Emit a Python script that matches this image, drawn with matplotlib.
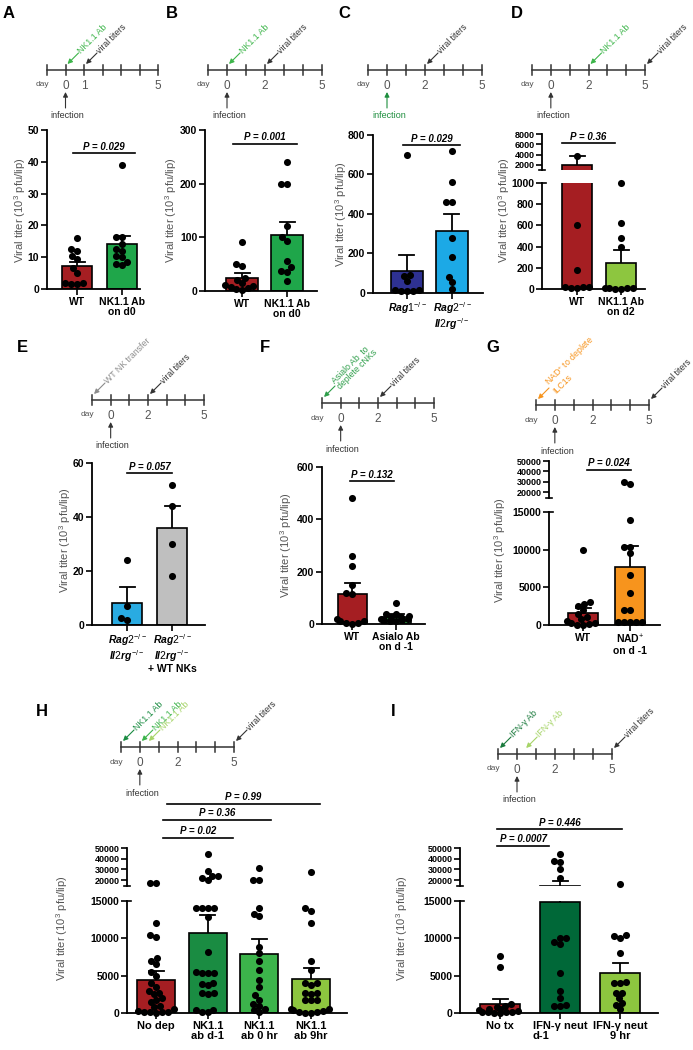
import numpy as np
import matplotlib
matplotlib.use("Agg")
import matplotlib.pyplot as plt

plt.rcParams['font.family'] = ['Liberation Sans', 'DejaVu Sans']
plt.rcParams['mathtext.fontset'] = 'custom'
plt.rcParams['mathtext.rm'] = 'Liberation Sans'
plt.rcParams['mathtext.it'] = 'Liberation Sans:italic:bold'
plt.rcParams['mathtext.bf'] = 'Liberation Sans:bold'

# ---------------- data ----------------
TIMELINE_DAYS = [-1, 0, 1, 2, 3, 4, 5]

A_labels = ["WT", "NK1.1 Ab\non d0"]
A_wt = [16, 12, 12.5, 9.5, 10.5, 6.5, 5, 2, 1.5, 1.5, 2]
A_nk = [39, 16.5, 16.5, 14, 12, 10.5, 10, 8, 8.5, 7.5, 12.5]
A_mean = [7.2, 14.1]
A_sem = [1.3, 2.6]
A_yticks = [0, 10, 20, 30, 40, 50]
A_p = "P = 0.029"
A_daylabels = [0, 1, 5]
A_events = [("NK1.1 Ab", 0, "#3db54a"), ("viral titers", 1, "#333333")]

B_labels = ["WT", "NK1.1 Ab\non d0"]
B_wt = [92, 47, 50, 12, 10, 8, 5, 3, 2, 25, 15, 20]
B_nk = [240, 200, 200, 122, 100, 93, 55, 45, 38, 36, 18]
B_mean = [24, 104]
B_sem = [9, 25]
B_yticks = [0, 100, 200, 300]
B_p = "P = 0.001"
B_daylabels = [0, 2, 5]
B_events = [("NK1.1 Ab", 0, "#3db54a"), ("viral titers", 2, "#333333")]

C_labels = [r"$\mathit{Rag1}^{-/-}$", r"$\mathit{Rag2}^{-/-}$" + "\n" + r"$\mathit{Il2rg}^{-/-}$"]
C_rag1 = [700, 90, 85, 60, 15, 10, 10, 10, 15]
C_rag2 = [720, 560, 460, 460, 280, 180, 80, 55, 20]
C_mean = [113, 313]
C_sem = [78, 88]
C_yticks = [0, 200, 400, 600, 800]
C_p = "P = 0.029"
C_daylabels = [0, 2, 5]
C_events = [("viral titers", 2, "#333333")]

D_labels = ["WT", "NK1.1 Ab\non d2"]
D_wt = [3800, 600, 180, 20, 10, 10, 15, 20]
D_nk = [1000, 620, 480, 400, 10, 10, 10, 10, 0, 0]
D_mean = [1900, 245]
D_sem = [1900, 125]
D_yticks = [0, 200, 400, 600, 800, 1000]
D_yticks_up = [2000, 4000, 6000, 8000]
D_p = "P = 0.36"
D_daylabels = [0, 2, 5]
D_events = [("NK1.1 Ab", 2, "#3db54a"), ("viral titers", 5, "#333333")]

E_labels = [r"$\mathit{Rag2}^{-/-}$" + "\n" + r"$\mathit{Il2rg}^{-/-}$",
            r"$\mathit{Rag2}^{-/-}$" + "\n" + r"$\mathit{Il2rg}^{-/-}$" + "\n+ WT NKs"]
E_rag = [24, 7, 2, 2.5]
E_nk = [52, 44, 30, 18]
E_mean = [8.3, 36]
E_sem = [5.6, 8]
E_yticks = [0, 20, 40, 60]
E_p = "P = 0.057"
E_daylabels = [0, 2, 5]
E_events = [("WT NK transfer", -1, "#8c8c8c"), ("viral titers", 2, "#333333")]

F_labels = ["WT", "Asialo Ab\non d -1"]
F_wt = [480, 260, 220, 150, 120, 115, 20, 10, 5, 5, 10, 0]
F_as = [80, 40, 40, 30, 25, 25, 20, 20, 15, 15, 10, 10]
F_mean = [113, 28]
F_sem = [45, 10]
F_yticks = [0, 200, 400, 600]
F_p = "P = 0.132"
F_daylabels = [0, 2, 5]
F_events = [("Asialo Ab  to\ndeplete cNKs", -1, "#2e9e4a"), ("viral titers", 2, "#333333")]

G_labels = ["WT", "NAD$^{+}$\non d -1"]
G_wt = [10000, 3000, 2800, 2500, 2000, 1500, 1000, 800, 500, 300, 200, 100, 50, 50]
G_nad = [30000, 28000, 14000, 10300, 10300, 9500, 6600, 4200, 2000, 2000, 400, 400, 400, 400, 400]
G_mean = [1550, 7650]
G_sem = [750, 2800]
G_yticks = [0, 5000, 10000, 15000]
G_yticks_up = [20000, 30000, 40000, 50000]
G_p = "P = 0.024"
G_daylabels = [0, 2, 5]
G_events = [("NAD$^{+}$ to deplete\nILC1s", -1, "#f7941d"), ("viral titers", 5, "#333333")]

H_labels = ["No dep", "NK1.1\nab d-1", "NK1.1\nab 0 hr", "NK1.1\nab 9hr"]
H_nodep = [17500, 17500, 12000, 10500, 10200, 7300, 7000, 6500, 5500, 5000, 4000, 3500, 3000,
           2700, 2500, 2000, 1800, 1500, 1000, 800, 500, 300, 200, 200, 100, 100, 50]
H_dm1 = [44000, 28500, 24000, 24000, 22000, 20000, 14000, 14000, 14000, 14000, 12900, 8200, 5500,
         5300, 5400, 5300, 4000, 3800, 3900, 2700, 2600, 2700, 400, 400, 200, 200]
H_0hr = [31500, 20000, 20000, 14000, 13200, 13000, 8800, 8000, 6900, 5800, 4400, 3500, 2400, 1800,
         1200, 1000, 600, 400, 200]
H_9hr = [28000, 14000, 13700, 12000, 6900, 5700, 4000, 4000, 3800, 2700, 2600, 2700, 1800, 1800,
         1700, 600, 500, 400, 300, 200, 100, 50, 50]
H_mean = [4440, 10740, 7900, 4530]
H_sem = [1200, 2350, 2000, 1450]
H_yticks = [0, 5000, 10000, 15000]
H_yticks_up = [20000, 30000, 40000, 50000]
H_p = ["P = 0.99", "P = 0.36", "P = 0.02"]
H_daylabels = [0, 2, 5]
H_events = [("NK1.1 Ab", -1, "#1a8c42"), ("NK1.1 Ab", 0, "#3cb44b"), ("NK1.1 Ab", 0.375, "#a6d468"),
            ("viral titers", 5, "#333333")]

I_labels = ["No tx", "IFN-\u03b3 neut\nd-1", "IFN-\u03b3 neut\n9 hr"]
I_notx = [7700, 6200, 1200, 1000, 800, 600, 500, 400, 300, 200, 200, 100, 100, 50, 50]
I_d1 = [44000, 37000, 38000, 30000, 22000, 10100, 10100, 9200, 9500, 5400, 2900, 2000, 1000, 1000, 1100]
I_9hr = [16000, 10300, 10100, 10400, 8000, 4000, 4000, 4100, 2700, 2700, 2000, 1300, 1100, 500]
I_mean = [1200, 14800, 5400]
I_sem = [660, 4300, 1250]
I_yticks = [0, 5000, 10000, 15000]
I_yticks_up = [20000, 30000, 40000, 50000]
I_p = ["P = 0.446", "P = 0.0007"]
I_daylabels = [0, 2, 5]
I_events = [("IFN-\u03b3 Ab", -1, "#1a7a3c"), ("IFN-\u03b3 Ab", 0.375, "#a6d468"),
            ("viral titers", 5, "#333333")]

RED = "#a51e22"

# ---------------- figure ----------------
W, H = 693, 1050
fig = plt.figure(figsize=(W / 100, H / 100), dpi=100)
ov = fig.add_axes([0, 0, 1, 1], zorder=20)
ov.set_xlim(0, W)
ov.set_ylim(H, 0)
ov.axis('off')
ov.patch.set_alpha(0)


def add_ax(x0, y0, x1, y1):
    return fig.add_axes([x0 / W, 1 - y1 / H, (x1 - x0) / W, (y1 - y0) / H])


def swarm_offsets(ypx, d, lim):
    ypx = np.asarray(ypx, float)
    order = np.argsort(ypx)
    px_, py_ = [], []
    xs = np.zeros(len(ypx))
    for i in order:
        y = ypx[i]
        ints = []
        for a, b in zip(px_, py_):
            dy = abs(b - y)
            if dy < d:
                h = np.sqrt(d * d - dy * dy)
                ints.append((a - h, a + h))
        cands = [0.0] + [a for a, b in ints] + [b for a, b in ints]
        cands.sort(key=lambda v: (abs(v), v))
        chosen = None
        for c in cands:
            if abs(c) <= lim and all(not (a + 1e-6 < c < b - 1e-6) for a, b in ints):
                chosen = c
                break
        if chosen is None:
            grid = np.linspace(-lim, lim, 13)
            cnt = [sum(1 for a, b in ints if a < g < b) for g in grid]
            chosen = grid[int(np.argmin(cnt))]
        xs[i] = chosen
        px_.append(xs[i])
        py_.append(y)
    return xs


def style_ax(ax, ticks, fs, bottom=True):
    for s in ['top', 'right']:
        ax.spines[s].set_visible(False)
    ax.spines['left'].set_linewidth(1.3)
    ax.spines['bottom'].set_linewidth(1.3)
    ax.tick_params(axis='both', direction='out', length=4, width=1.2, pad=1.5)
    ax.set_yticks(ticks)
    ax.set_yticklabels([str(t) for t in ticks], fontsize=fs, fontweight='bold')
    if not bottom:
        ax.spines['bottom'].set_visible(False)
        ax.tick_params(axis='x', bottom=False, labelbottom=False)
    ax.patch.set_alpha(0)


def bar_panel(p):
    n = len(p['means'])
    c = p['centers']
    s = (c[-1] - c[0]) / (n - 1)
    xlim = ((p['x'][0] - c[0]) / s, (p['x'][1] - c[0]) / s)
    bw = p['width'] / s
    capw = 7.5 / s
    axl = add_ax(p['x'][0], p['lower'][0], p['x'][1], p['lower'][1])
    axes = [(axl, p['ylim'])]
    axu = None
    if p.get('upper'):
        axu = add_ax(p['x'][0], p['upper'][0], p['x'][1], p['upper'][1])
        axes.append((axu, p['ylim_up']))
    for ax, yl in axes:
        ax.set_xlim(*xlim)
        ax.set_ylim(*yl)
        ax.bar(range(n), p['means'], width=bw, color=p['colors'], edgecolor='black',
               linewidth=1.2, zorder=2)
        for i, (m, e) in enumerate(zip(p['means'], p['sems'])):
            ax.plot([i, i], [m, m + e], color='black', lw=1.3, zorder=3, solid_capstyle='butt')
            ax.plot([i - capw, i + capw], [m + e, m + e], color='black', lw=1.3, zorder=3)
    style_ax(axl, p['yticks'], p.get('tfs', 7.5))
    axl.set_xticks(range(n))
    axl.set_xticklabels(p['labels'], fontsize=p.get('xfs', 7.5), fontweight='bold', linespacing=1.0)
    for lab, ma in zip(axl.get_xticklabels(), p.get('malign', ['center'] * n)):
        lab.set_multialignment(ma)
    if axu is not None:
        style_ax(axu, p['yticks_up'], p.get('ufs', 6.5), bottom=False)
        x0 = p['x'][0]
        ov.plot([x0 - 3, x0 + 3], [p['upper'][1], p['upper'][1]], color='black', lw=1.2)
        ov.plot([x0, x0 + 4], [p['lower'][0], p['lower'][0]], color='black', lw=1.2)
    top_lo = p['ylim'][1]
    for i, vals in enumerate(p['groups']):
        vals = np.asarray(vals, float)
        ypx = []
        for v in vals:
            ax = axl if (axu is None or v <= top_lo) else axu
            ypx.append(ax.transData.transform((0, v))[1])
        offs = swarm_offsets(ypx, 6.0, p['width'] / 2 + 1)
        cx = axl.transData.transform((i, 0))[0]
        xd = np.array([axl.transData.inverted().transform((cx + o, 0))[0] for o in offs])
        lo = (vals <= top_lo) if axu is not None else np.ones(len(vals), bool)
        axl.scatter(xd[lo], vals[lo], s=26, c='black', zorder=4, clip_on=False, linewidths=0)
        if axu is not None and (~lo).any():
            axu.scatter(xd[~lo], vals[~lo], s=26, c='black', zorder=4, clip_on=False, linewidths=0)
    ov.text(p['ylab'][0], p['ylab'][1], "Viral titer (10$^3$ pfu/lip)", rotation=90,
            ha='center', va='center', fontsize=8, color='#555555')
    for xa, xb, y, txt in p['sig']:
        ov.plot([xa, xb], [y, y], color='black', lw=1.2)
        ov.text((xa + xb) / 2, y - 1.5, txt, ha='center', va='bottom', fontsize=7,
                fontstyle='italic', fontweight='bold')


def timeline(t):
    x0, x1 = t['x']
    y = t['y']
    days = TIMELINE_DAYS
    step = (x1 - x0) / (len(days) - 1)

    def dx(d):
        return x0 + (d - days[0]) * step
    ov.plot([x0, x1], [y, y], color='#333333', lw=1.1)
    for d in days:
        ov.plot([dx(d)] * 2, [y - 5, y + 5], color='#333333', lw=1.1)
    ov.text(dx(days[0]) - 5, y + 15, 'day', ha='center', va='center', fontsize=6, color='#555555')
    for d in t['labels']:
        ov.text(dx(d), y + 16, str(d), ha='center', va='center', fontsize=8.5, color='#555555')
    ic = t.get('inf_color', '#333333')
    ov.annotate('', xy=(dx(0), y + 22), xytext=(dx(0), y + 38),
                arrowprops=dict(arrowstyle='-|>', color=ic, lw=0.8, mutation_scale=7,
                                shrinkA=0, shrinkB=0))
    ov.text(dx(0) + 2, y + 46, 'infection', ha='center', va='center', fontsize=6.5, color=ic)
    for label, d, col in t['events']:
        hx, hy = dx(d) + 2, y - 6
        tx, ty = hx + 11, hy - 11
        ov.annotate('', xy=(hx, hy), xytext=(tx, ty),
                    arrowprops=dict(arrowstyle='-|>', color=col, lw=0.8, mutation_scale=7,
                                    shrinkA=0, shrinkB=0))
        ov.text(tx + 1, ty - 1, label, rotation=45, rotation_mode='anchor', ha='left',
                va='center', fontsize=6.3, color=col, linespacing=1.0)


panels = [
    dict(x=(47, 140), centers=(77, 122), width=30, lower=(130, 289), ylim=(0, 50),
         yticks=A_yticks, groups=[A_wt, A_nk], means=A_mean, sems=A_sem,
         colors=[RED, '#1fa64a'], labels=A_labels, ylab=(20, 210),
         sig=[(73, 135, 153, A_p)]),
    dict(x=(205, 317), centers=(242, 287), width=32, lower=(130, 291), ylim=(0, 300),
         yticks=B_yticks, groups=[B_wt, B_nk], means=B_mean, sems=B_sem,
         colors=[RED, '#1fa64a'], labels=B_labels, ylab=(171, 210),
         sig=[(233, 297, 144, B_p)]),
    dict(x=(373, 483), centers=(407, 452), width=32, lower=(135, 293), ylim=(0, 800),
         yticks=C_yticks, groups=[C_rag1, C_rag2], means=C_mean, sems=C_sem,
         colors=['#2e3192', '#1ca9e6'], labels=C_labels, ylab=(341, 214),
         sig=[(403, 460, 145, C_p)]),
    dict(x=(542, 645), centers=(577, 621), width=30, lower=(183, 289), ylim=(0, 1000),
         yticks=D_yticks, upper=(134, 170), ylim_up=(1000, 8000), yticks_up=D_yticks_up,
         groups=[D_wt, D_nk], means=D_mean, sems=D_sem, colors=[RED, '#8dc63f'],
         labels=D_labels, ylab=(504, 210), sig=[(562, 615, 143, D_p)]),
    dict(x=(92, 205), centers=(127, 172), width=30, lower=(463, 625), ylim=(0, 60),
         yticks=E_yticks, groups=[E_rag, E_nk], means=E_mean, sems=E_sem,
         colors=['#29abe2', '#bfbfbf'], labels=E_labels, ylab=(65, 540),
         sig=[(127, 172, 473, E_p)]),
    dict(x=(322, 425), centers=(352, 396), width=29, lower=(467, 624), ylim=(0, 600),
         yticks=F_yticks, groups=[F_wt, F_as], means=F_mean, sems=F_sem,
         colors=[RED, '#39b54a'], labels=F_labels, ylab=(286, 545),
         sig=[(350, 394, 481, F_p)]),
    dict(x=(549, 660), centers=(583, 630), width=30, lower=(512, 625), ylim=(0, 15000),
         yticks=G_yticks, upper=(461, 498), ylim_up=(14500, 50000), yticks_up=G_yticks_up,
         groups=[G_wt, G_nad], means=G_mean, sems=G_sem, colors=[RED, '#f7941d'],
         labels=G_labels, ylab=(500, 550), sig=[(587, 631, 470, G_p)]),
    dict(x=(127, 347), centers=(156, 211, 261, 311), width=38, lower=(901, 1013), ylim=(0, 15000),
         yticks=H_yticks, upper=(848, 886), ylim_up=(14500, 50000), yticks_up=H_yticks_up,
         groups=[H_nodep, H_dm1, H_0hr, H_9hr], means=H_mean, sems=H_sem,
         colors=[RED, '#1a8c42', '#3cb44b', '#8dc63f'], labels=H_labels, ylab=(62, 928),
         xfs=8, sig=[(167, 320, 804, H_p[0]), (163, 271, 820, H_p[1]), (163, 233, 838, H_p[2])]),
    dict(x=(460, 658), centers=(500, 560, 620), width=40, lower=(901, 1013), ylim=(0, 15000),
         yticks=I_yticks, upper=(848, 886), ylim_up=(14500, 50000), yticks_up=I_yticks_up,
         groups=[I_notx, I_d1, I_9hr], means=I_mean, sems=I_sem,
         colors=[RED, '#006838', '#8dc63f'], labels=I_labels, ylab=(402, 928),
         xfs=8, malign=['center', 'left', 'center'],
         sig=[(497, 622, 829, I_p[0]), (497, 549, 846, I_p[1])]),
]
for p in panels:
    bar_panel(p)

timelines = [
    dict(x=(47, 158), y=70, labels=A_daylabels, events=A_events),
    dict(x=(208, 322), y=70, labels=B_daylabels, events=B_events),
    dict(x=(368, 482), y=70, labels=C_daylabels, events=C_events, inf_color='#1e8e3e'),
    dict(x=(532, 645), y=70, labels=D_daylabels, events=D_events),
    dict(x=(92, 204), y=400, labels=E_daylabels, events=E_events),
    dict(x=(322, 434), y=403, labels=F_daylabels, events=F_events),
    dict(x=(536, 649), y=405, labels=G_daylabels, events=G_events),
    dict(x=(121, 234), y=747, labels=H_daylabels, events=H_events),
    dict(x=(498, 612), y=754, labels=I_daylabels, events=I_events),
]
for t in timelines:
    timeline(t)

letters = [("A", 3, 14), ("B", 166, 14), ("C", 338, 14), ("D", 511, 14),
           ("E", 17, 348), ("F", 260, 348), ("G", 486, 348), ("H", 36, 712), ("I", 391, 712)]
for L, x, y in letters:
    ov.text(x, y, L, fontsize=12, fontweight='bold', ha='left', va='center')

fig.savefig("out.png", dpi=100)
